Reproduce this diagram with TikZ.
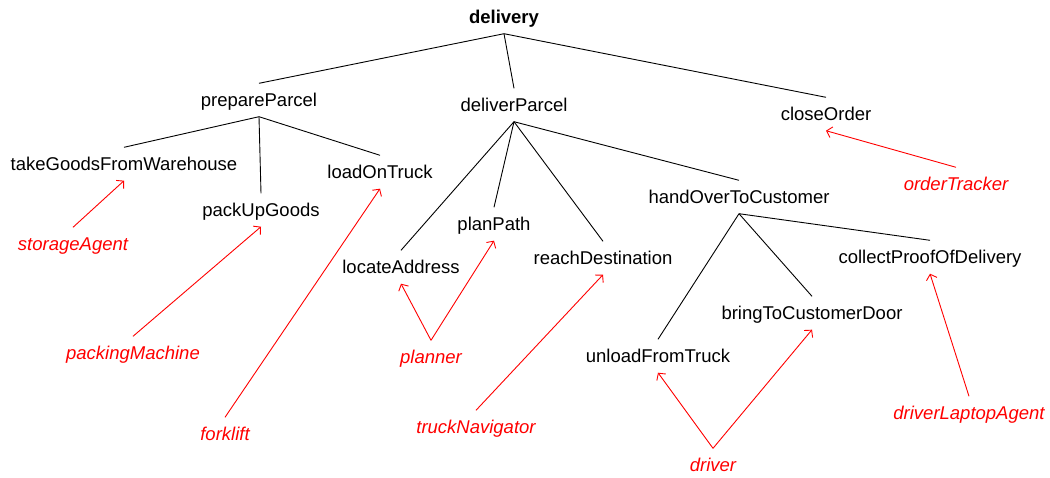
\documentclass[tikz,border=0pt]{standalone}
\usepackage{fontspec}
\setmainfont{Liberation Sans}
\usetikzlibrary{arrows.meta}
\definecolor{agentred}{RGB}{255,0,0}

\begin{document}
\begin{tikzpicture}[x=1pt, y=-1pt,
  task/.style={font=\fontsize{18.5}{20}\selectfont, text height=15pt, text depth=2pt, inner xsep=2pt, inner ysep=8pt},
  agent/.style={task, agentred, font=\fontsize{18.5}{20}\selectfont\itshape},
  link/.style={line width=0.9pt, black},
  uses/.style={line width=0.9pt, agentred, -{Straight Barb[length=5pt, width=11pt]}}]
  \useasboundingbox (0,0) rectangle (1050,477);

  % Goal tree
  \node[task, font=\fontsize{18.5}{20}\selectfont\bfseries] (delivery) at (504,17) {delivery};
  \node[task] (prepare) at (259,100) {prepareParcel};
  \node[task] (deliver) at (514,105) {deliverParcel};
  \node[task] (close) at (826,114) {closeOrder};

  \node[task] (takegoods) at (124,164) {takeGoodsFromWarehouse};
  \node[task] (packup) at (261,210) {packUpGoods};
  \node[task] (load) at (380,172) {loadOnTruck};

  \node[task] (locate) at (401,267) {locateAddress};
  \node[task] (plan) at (494,224) {planPath};
  \node[task] (reach) at (603,258) {reachDestination};
  \node[task] (handover) at (739,197) {handOverToCustomer};

  \node[task] (unload) at (658,356) {unloadFromTruck};
  \node[task] (bring) at (812,313) {bringToCustomerDoor};
  \node[task] (collect) at (930,257) {collectProofOfDelivery};

  % Decomposition links
  \foreach \child in {prepare, deliver, close}
    \draw[link] (delivery.south) -- (\child.north);
  \foreach \child in {takegoods, packup, load}
    \draw[link] (prepare.south) -- (\child.north);
  \foreach \child in {locate, plan, reach, handover}
    \draw[link] (deliver.south) -- (\child.north);
  \foreach \child in {unload, bring, collect}
    \draw[link] (handover.south) -- (\child.north);

  % Agents
  \node[agent] (storage) at (73,244) {storageAgent};
  \node[agent] (packing) at (133,353) {packingMachine};
  \node[agent] (forklift) at (225,434) {forklift};
  \node[agent] (planner) at (431,357) {planner};
  \node[agent] (navigator) at (476,427) {truckNavigator};
  \node[agent] (driver) at (713,465) {driver};
  \node[agent] (laptop) at (969,413) {driverLaptopAgent};
  \node[agent] (tracker) at (956,184) {orderTracker};

  % Assignments
  \draw[uses] (storage.north) -- (takegoods.south);
  \draw[uses] (packing.north) -- (packup.south);
  \draw[uses] (forklift.north) -- (load.south);
  \draw[uses] (planner.north) -- (locate.south);
  \draw[uses] (planner.north) -- (plan.south);
  \draw[uses] (navigator.north) -- (reach.south);
  \draw[uses] (driver.north) -- (unload.south);
  \draw[uses] (driver.north) -- (bring.south);
  \draw[uses] (laptop.north) -- (collect.south);
  \draw[uses] (tracker.north) -- (close.south);
\end{tikzpicture}
\end{document}
